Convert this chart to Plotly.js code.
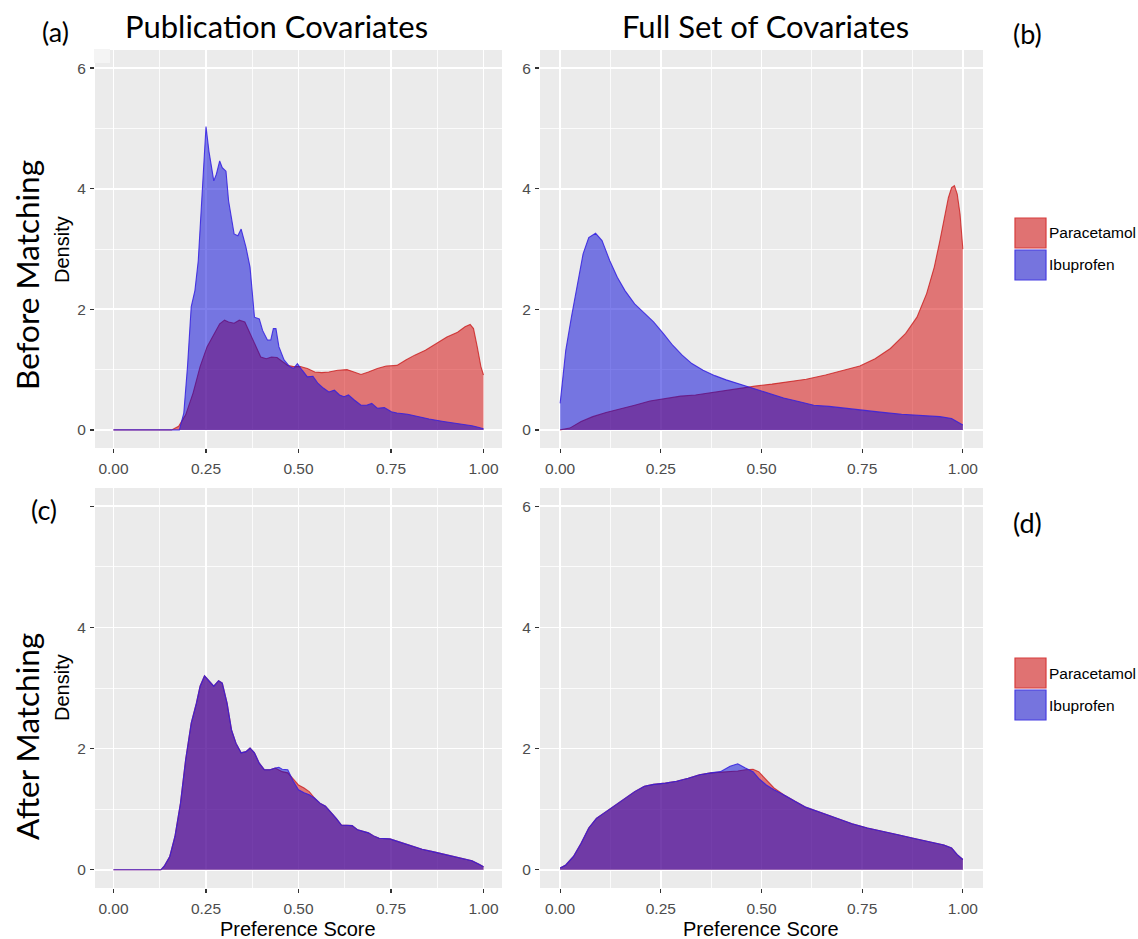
<!DOCTYPE html>
<html>
<head>
<meta charset="utf-8">
<script src="https://cdn.plot.ly/plotly-3.0.1.min.js"></script>
<style>html,body{margin:0;padding:0;background:#fff;}#chart{width:1138px;height:939px;}</style>
</head>
<body>
<div id="chart"></div>
<script>
// ---- Data ----
const seriesNames = ['Paracetamol', 'Ibuprofen'];
const xTickVals = [0, 0.25, 0.5, 0.75, 1];
const xTickText = ['0.00', '0.25', '0.50', '0.75', '1.00'];
const yTickVals = [0, 2, 4, 6];

// (a) Before matching, publication covariates
const aParaX = [0, 0.157, 0.176, 0.195, 0.215, 0.234, 0.253, 0.273, 0.287, 0.30, 0.311, 0.326, 0.34, 0.355, 0.369, 0.384, 0.398, 0.413, 0.427, 0.442, 0.456, 0.471, 0.486, 0.505, 0.524, 0.544, 0.563, 0.582, 0.606, 0.631, 0.65, 0.669, 0.689, 0.713, 0.737, 0.766, 0.79, 0.814, 0.843, 0.872, 0.901, 0.93, 0.95, 0.964, 0.973, 0.983, 0.993, 1.0];
const aParaY = [0, 0, 0.06, 0.25, 0.61, 1.05, 1.38, 1.60, 1.76, 1.82, 1.79, 1.77, 1.82, 1.79, 1.60, 1.38, 1.21, 1.18, 1.21, 1.20, 1.13, 1.07, 1.05, 1.05, 1.02, 0.96, 0.95, 0.96, 0.99, 1.00, 0.96, 0.92, 0.96, 1.02, 1.06, 1.07, 1.16, 1.24, 1.32, 1.43, 1.54, 1.62, 1.71, 1.75, 1.68, 1.38, 1.05, 0.91];
const aIbuX = [0, 0.178, 0.19, 0.20, 0.21, 0.22, 0.229, 0.239, 0.25, 0.258, 0.271, 0.278, 0.287, 0.294, 0.304, 0.311, 0.326, 0.336, 0.345, 0.358, 0.369, 0.381, 0.394, 0.403, 0.416, 0.425, 0.432, 0.439, 0.447, 0.461, 0.476, 0.487, 0.497, 0.51, 0.524, 0.539, 0.553, 0.568, 0.582, 0.597, 0.611, 0.623, 0.635, 0.65, 0.669, 0.684, 0.698, 0.713, 0.732, 0.751, 0.766, 0.795, 0.824, 0.853, 0.892, 0.93, 0.969, 0.988, 1.0];
const aIbuY = [0, 0, 0.28, 1.05, 2.04, 2.31, 2.8, 3.8, 5.03, 4.62, 4.13, 4.24, 4.46, 4.35, 4.29, 3.8, 3.25, 3.22, 3.33, 3.03, 2.70, 1.87, 1.84, 1.65, 1.49, 1.49, 1.68, 1.68, 1.38, 1.16, 1.05, 1.02, 1.10, 0.99, 0.88, 0.89, 0.77, 0.69, 0.63, 0.66, 0.58, 0.55, 0.58, 0.50, 0.41, 0.41, 0.44, 0.36, 0.37, 0.30, 0.28, 0.26, 0.22, 0.18, 0.14, 0.11, 0.07, 0.04, 0.02];

// (b) Before matching, full set of covariates
const bParaX = [0, 0.024, 0.052, 0.081, 0.114, 0.147, 0.185, 0.223, 0.261, 0.299, 0.336, 0.374, 0.412, 0.45, 0.488, 0.526, 0.564, 0.611, 0.659, 0.706, 0.744, 0.782, 0.82, 0.858, 0.886, 0.91, 0.929, 0.943, 0.954, 0.964, 0.972, 0.979, 0.986, 0.993, 1.0];
const bParaY = [0, 0.03, 0.14, 0.22, 0.29, 0.34, 0.41, 0.48, 0.52, 0.56, 0.58, 0.62, 0.66, 0.70, 0.73, 0.76, 0.80, 0.84, 0.91, 0.99, 1.06, 1.18, 1.35, 1.60, 1.87, 2.26, 2.70, 3.14, 3.52, 3.85, 4.02, 4.05, 3.91, 3.58, 3.0];
const bIbuX = [0, 0.005, 0.014, 0.028, 0.043, 0.057, 0.071, 0.088, 0.104, 0.123, 0.142, 0.161, 0.185, 0.209, 0.232, 0.256, 0.28, 0.303, 0.327, 0.355, 0.384, 0.412, 0.441, 0.469, 0.498, 0.526, 0.555, 0.592, 0.63, 0.668, 0.706, 0.754, 0.801, 0.848, 0.896, 0.943, 0.972, 0.986, 1.0];
const bIbuY = [0.44, 0.77, 1.32, 1.87, 2.42, 2.92, 3.19, 3.26, 3.14, 2.81, 2.53, 2.31, 2.09, 1.93, 1.79, 1.60, 1.40, 1.24, 1.10, 0.99, 0.90, 0.83, 0.77, 0.72, 0.65, 0.59, 0.53, 0.47, 0.41, 0.39, 0.36, 0.32, 0.29, 0.26, 0.24, 0.22, 0.19, 0.14, 0.08];

// (c) After matching, publication covariates
const cParaX = [0, 0.128, 0.137, 0.152, 0.166, 0.181, 0.195, 0.21, 0.224, 0.234, 0.246, 0.258, 0.271, 0.284, 0.294, 0.307, 0.319, 0.331, 0.345, 0.358, 0.369, 0.381, 0.394, 0.408, 0.423, 0.437, 0.456, 0.471, 0.486, 0.5, 0.515, 0.529, 0.544, 0.558, 0.573, 0.587, 0.602, 0.616, 0.631, 0.645, 0.66, 0.674, 0.689, 0.703, 0.718, 0.747, 0.776, 0.805, 0.834, 0.863, 0.892, 0.921, 0.95, 0.969, 0.988, 1.0];
const cParaY = [0, 0, 0.06, 0.22, 0.55, 1.10, 1.82, 2.42, 2.75, 3.03, 3.20, 3.11, 3.03, 3.12, 3.08, 2.75, 2.31, 2.09, 1.93, 1.95, 2.01, 1.93, 1.76, 1.65, 1.65, 1.68, 1.62, 1.60, 1.49, 1.40, 1.35, 1.29, 1.18, 1.10, 1.05, 0.96, 0.85, 0.74, 0.74, 0.73, 0.66, 0.64, 0.61, 0.56, 0.52, 0.51, 0.45, 0.40, 0.34, 0.30, 0.26, 0.22, 0.18, 0.15, 0.09, 0.05];
const cIbuX = [0, 0.128, 0.137, 0.152, 0.166, 0.181, 0.195, 0.21, 0.224, 0.234, 0.246, 0.258, 0.271, 0.284, 0.294, 0.307, 0.319, 0.331, 0.345, 0.358, 0.369, 0.381, 0.394, 0.408, 0.423, 0.437, 0.447, 0.456, 0.471, 0.486, 0.5, 0.515, 0.529, 0.544, 0.558, 0.573, 0.587, 0.602, 0.616, 0.631, 0.645, 0.66, 0.674, 0.689, 0.703, 0.718, 0.747, 0.776, 0.805, 0.834, 0.863, 0.892, 0.921, 0.95, 0.969, 0.988, 1.0];
const cIbuY = [0, 0, 0.06, 0.22, 0.55, 1.10, 1.82, 2.42, 2.75, 3.03, 3.20, 3.11, 3.03, 3.12, 3.08, 2.75, 2.31, 2.09, 1.93, 1.95, 2.01, 1.93, 1.76, 1.65, 1.65, 1.68, 1.69, 1.66, 1.65, 1.46, 1.32, 1.27, 1.24, 1.18, 1.10, 1.05, 0.96, 0.85, 0.74, 0.74, 0.73, 0.66, 0.64, 0.61, 0.56, 0.52, 0.51, 0.45, 0.40, 0.34, 0.30, 0.26, 0.22, 0.18, 0.15, 0.09, 0.05];

// (d) After matching, full set of covariates
const dParaX = [0, 0.014, 0.033, 0.052, 0.071, 0.09, 0.114, 0.137, 0.161, 0.185, 0.209, 0.232, 0.261, 0.289, 0.318, 0.346, 0.374, 0.398, 0.422, 0.441, 0.46, 0.479, 0.493, 0.512, 0.531, 0.555, 0.583, 0.611, 0.649, 0.687, 0.725, 0.763, 0.801, 0.839, 0.877, 0.915, 0.953, 0.972, 0.986, 1.0];
const dParaY = [0.03, 0.08, 0.22, 0.44, 0.69, 0.85, 0.96, 1.07, 1.18, 1.29, 1.38, 1.41, 1.43, 1.46, 1.51, 1.57, 1.60, 1.61, 1.62, 1.63, 1.65, 1.66, 1.62, 1.49, 1.35, 1.24, 1.13, 1.03, 0.94, 0.85, 0.76, 0.69, 0.64, 0.58, 0.52, 0.47, 0.41, 0.36, 0.25, 0.17];
const dIbuX = [0, 0.014, 0.033, 0.052, 0.071, 0.09, 0.114, 0.137, 0.161, 0.185, 0.209, 0.232, 0.261, 0.289, 0.318, 0.346, 0.374, 0.398, 0.422, 0.441, 0.46, 0.479, 0.493, 0.512, 0.531, 0.555, 0.583, 0.611, 0.649, 0.687, 0.725, 0.763, 0.801, 0.839, 0.877, 0.915, 0.953, 0.972, 0.986, 1.0];
const dIbuY = [0.03, 0.08, 0.22, 0.44, 0.69, 0.85, 0.96, 1.07, 1.18, 1.29, 1.38, 1.41, 1.43, 1.46, 1.51, 1.57, 1.60, 1.62, 1.71, 1.75, 1.68, 1.62, 1.51, 1.40, 1.32, 1.24, 1.13, 1.03, 0.94, 0.85, 0.76, 0.69, 0.64, 0.58, 0.52, 0.47, 0.41, 0.36, 0.25, 0.17];

// ---- Styling ----
const W = 1138, H = 939;
const px = v => v / W;
const py = v => 1 - v / H;
const redFill = 'rgba(213,0,0,0.5)';
const blueFill = 'rgba(0,0,215,0.5)';
const redLine = 'rgba(200,20,20,0.75)';
const blueLine = 'rgba(50,30,225,0.85)';
const tickFont = {family: 'Liberation Sans, Arial, sans-serif', size: 15.5, color: '#4d4d4d'};
const capFont = {family: 'Lato, "Open Sans", sans-serif', size: 31, color: '#000'};

function area(x, y, name, fill, line, xa, ya) {
  return {type: 'scatter', mode: 'lines', x: x, y: y, name: name, fill: 'tozeroy',
    fillcolor: fill, line: {color: line, width: 1.1}, xaxis: xa, yaxis: ya,
    showlegend: false, hoverinfo: 'skip'};
}

const traces = [
  area(aParaX, aParaY, seriesNames[0], redFill, redLine, 'x', 'y'),
  area(aIbuX, aIbuY, seriesNames[1], blueFill, blueLine, 'x', 'y'),
  area(bParaX, bParaY, seriesNames[0], redFill, redLine, 'x2', 'y2'),
  area(bIbuX, bIbuY, seriesNames[1], blueFill, blueLine, 'x2', 'y2'),
  area(cParaX, cParaY, seriesNames[0], redFill, redLine, 'x3', 'y3'),
  area(cIbuX, cIbuY, seriesNames[1], blueFill, blueLine, 'x3', 'y3'),
  area(dParaX, dParaY, seriesNames[0], redFill, redLine, 'x4', 'y4'),
  area(dIbuX, dIbuY, seriesNames[1], blueFill, blueLine, 'x4', 'y4')
];

function xAxis(domain, anchor) {
  return {domain: domain, anchor: anchor, range: [-0.05, 1.05], tickmode: 'array',
    tickvals: xTickVals, ticktext: xTickText, ticks: 'outside', ticklen: 4, tickwidth: 1.2,
    tickcolor: '#333', showgrid: true, gridcolor: '#ffffff', gridwidth: 1.6,
    minor: {tickmode: 'array', tickvals: [0.125, 0.375, 0.625, 0.875], showgrid: true,
      gridcolor: '#ffffff', gridwidth: 0.8, ticks: ''},
    ticklabelstandoff: 2,
    zeroline: false, showline: false, tickfont: tickFont, fixedrange: true};
}
function yAxis(domain, anchor, labels) {
  return {domain: domain, anchor: anchor, range: [-0.3, 6.3], tickmode: 'array',
    tickvals: yTickVals, ticktext: labels, ticks: 'outside', ticklen: 4, tickwidth: 1.2,
    tickcolor: '#333', showgrid: true, gridcolor: '#ffffff', gridwidth: 1.6,
    minor: {tickmode: 'array', tickvals: [1, 3, 5], showgrid: true,
      gridcolor: '#ffffff', gridwidth: 0.8, ticks: ''},
    ticklabelstandoff: 1,
    zeroline: false, showline: false, tickfont: tickFont, fixedrange: true};
}

const leftX = [px(95), px(502)];
const rightX = [px(540), px(983)];
const topY = [py(448), py(50)];
const botY = [py(888), py(488)];

function legendShapes(y0) {
  return [
    {type: 'rect', xref: 'paper', yref: 'paper', x0: px(1015), x1: px(1046), y0: py(y0), y1: py(y0 + 30),
      fillcolor: 'rgb(224,114,114)', line: {color: 'rgb(215,60,60)', width: 1.2}},
    {type: 'rect', xref: 'paper', yref: 'paper', x0: px(1015), x1: px(1046), y0: py(y0 + 32), y1: py(y0 + 62),
      fillcolor: 'rgb(118,116,222)', line: {color: 'rgb(70,60,225)', width: 1.2}}
  ];
}
function legendTexts(y0) {
  const f = {family: 'Liberation Sans, Arial, sans-serif', size: 15.5, color: '#000'};
  return [
    {xref: 'paper', yref: 'paper', x: px(1047), y: py(y0 + 15), text: seriesNames[0], showarrow: false, xanchor: 'left', yanchor: 'middle', font: f},
    {xref: 'paper', yref: 'paper', x: px(1047), y: py(y0 + 47), text: seriesNames[1], showarrow: false, xanchor: 'left', yanchor: 'middle', font: f}
  ];
}
function note(x, y, text, font, angle) {
  return {xref: 'paper', yref: 'paper', x: px(x), y: py(y), text: text, showarrow: false,
    xanchor: 'center', yanchor: 'middle', font: font, textangle: angle || 0};
}
const axTitleFont = {family: 'Liberation Sans, Arial, sans-serif', size: 20, color: '#000'};
const rowFont = {family: 'Lato, "Open Sans", sans-serif', size: 31.5, color: '#000'};
const tagFont = {family: 'Lato, "Open Sans", sans-serif', size: 27, color: '#000'};

// small white notch at the top-left corner of panel (a), as in the reference
const notch = {type: 'rect', xref: 'paper', yref: 'paper', x0: px(94), x1: px(110), y0: py(63), y1: py(49),
  fillcolor: '#f4f4f4', line: {width: 0}, layer: 'above'};

const layout = {
  width: W, height: H, margin: {l: 0, r: 0, t: 0, b: 0},
  paper_bgcolor: '#ffffff', plot_bgcolor: '#EBEBEB', showlegend: false,
  xaxis: xAxis(leftX, 'y'), yaxis: yAxis(topY, 'x', ['0', '2', '4', '6']),
  xaxis2: xAxis(rightX, 'y2'), yaxis2: yAxis(topY, 'x2', ['0', '2', '4', '6']),
  xaxis3: xAxis(leftX, 'y3'), yaxis3: yAxis(botY, 'x3', ['0', '2', '4', '']),
  xaxis4: xAxis(rightX, 'y4'), yaxis4: yAxis(botY, 'x4', ['0', '2', '4', '6']),
  shapes: legendShapes(218).concat(legendShapes(658)).concat([notch]),
  annotations: [
    note(276, 26, 'Publication Covariates', capFont),
    note(765, 26, 'Full Set of Covariates', capFont),
    note(55, 32, '(a)', tagFont),
    note(1027, 33, '(b)', tagFont),
    note(44, 510, '(c)', tagFont),
    note(1027, 522, '(d)', tagFont),
    note(27, 275, 'Before Matching', rowFont, -90),
    note(27, 737, 'After Matching', rowFont, -90),
    note(62, 250, 'Density', axTitleFont, -90),
    note(62, 688, 'Density', axTitleFont, -90),
    note(298, 929, 'Preference Score', axTitleFont),
    note(761, 929, 'Preference Score', axTitleFont)
  ].concat(legendTexts(218)).concat(legendTexts(658))
};

Plotly.newPlot('chart', traces, layout, {displayModeBar: false, staticPlot: true});
</script>
</body>
</html>
